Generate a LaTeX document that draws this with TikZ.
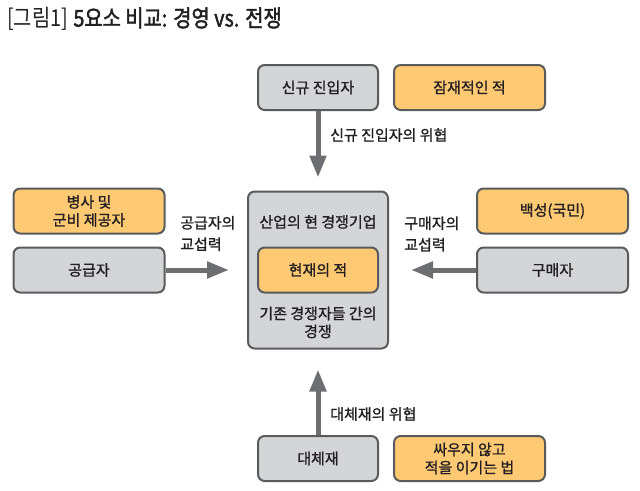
\documentclass[tikz,border=0pt]{standalone}
\usepackage{fontspec}
\setmainfont{Noto Sans CJK KR}[FakeBold=1.2]
\newfontfamily\titlelight{Noto Sans CJK KR}[FakeStretch=0.85]
\newfontfamily\titlemain{Noto Sans CJK KR}[FakeStretch=0.85,FakeBold=1.8]
\usetikzlibrary{arrows.meta}
\definecolor{boxgray}{HTML}{D4D5D7}
\definecolor{boxline}{HTML}{5A5B5D}
\definecolor{enemy}{HTML}{FDC973}
\definecolor{arrowgray}{HTML}{6D6E71}
\definecolor{ink}{HTML}{231F20}
\begin{document}
\begin{tikzpicture}[x=0.75pt,y=-0.75pt]
\tikzstyle{every node}+=[inner sep=0pt,text=ink,font=\fontsize{11.25}{13.5}\selectfont,align=center]
\tikzstyle{gray box}=[draw=boxline,line width=1.5pt,fill=boxgray,rounded corners=5pt,minimum width=90pt,minimum height=33.75pt]
\tikzstyle{enemy box}=[gray box,fill=enemy,minimum width=113.25pt]
\tikzstyle{force}=[draw=arrowgray,line width=3.75pt,-{Triangle[width=12pt,length=16.5pt]}]
\tikzstyle{force label}=[anchor=west,align=left,font=\fontsize{11.25}{16}\selectfont]
\useasboundingbox (0,0) rectangle (640,490);
\node[anchor=west,font=\fontsize{17.5}{20}\selectfont] (title) at (7,19) {{\titlelight [그림1]} {\titlemain 5요소 비교: 경영 vs. 전쟁}};
\node[gray box,minimum width=105pt,minimum height=117.75pt] (rivals) at (318,270) {};
\node (rivals top) at (318,222) {산업의 현 경쟁기업};
\node[gray box,fill=enemy] (current enemy) at (318,270) {현재의 적};
\node (rivals bottom) at (318,322.5) {기존 경쟁자들 간의\\경쟁};
\node[gray box] (entrant) at (318,87.5) {신규 진입자};
\node[enemy box] (potential enemy) at (469.5,87.5) {잠재적인 적};
\node[enemy box] (arms supplier) at (89,211) {병사 및\\군비 제공자};
\node[enemy box,fill=boxgray] (supplier) at (89,270) {공급자};
\node[enemy box] (people) at (552.5,211) {백성(국민)};
\node[enemy box,fill=boxgray] (buyer) at (552.5,270) {구매자};
\node[gray box] (substitute) at (318,458.5) {대체재};
\node[enemy box] (win without fight) at (469.5,458.5) {싸우지 않고\\적을 이기는 법};
\draw[force,shorten >=9.75pt] (entrant.south) -- (rivals.north);
\draw[force,shorten >=15pt] (substitute.north) -- (rivals.south);
\draw[force,shorten >=13.5pt] (supplier.east) -- (rivals.west);
\draw[force,shorten >=16.5pt] (buyer.west) -- (rivals.east);
\node[force label] (entrant threat) at (330,135) {신규 진입자의 위협};
\node[force label] (supplier power) at (180,233.5) {공급자의\\교섭력};
\node[force label] (buyer power) at (404,234) {구매자의\\교섭력};
\node[force label] (substitute threat) at (330,414) {대체재의 위협};
\end{tikzpicture}
\end{document}
